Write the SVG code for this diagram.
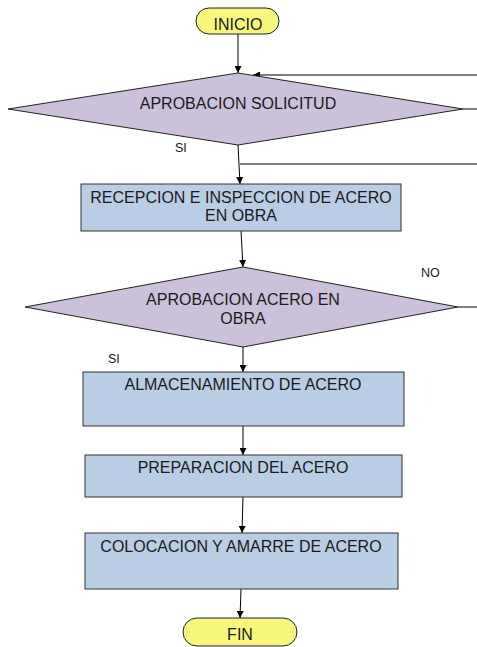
<svg xmlns="http://www.w3.org/2000/svg" width="477" height="647" viewBox="0 0 477 647">
<defs>
<marker id="ah" viewBox="0 0 10 10" refX="10" refY="5" markerWidth="7" markerHeight="7" markerUnits="userSpaceOnUse" orient="auto"><path d="M0,0 L10,5 L0,10 z" fill="#000"/></marker>
<style>
.t{font-family:"Liberation Sans",Arial,sans-serif;font-size:16px;fill:#1a1a1a;text-anchor:middle}
.l{font-family:"Liberation Sans",Arial,sans-serif;font-size:12.5px;fill:#1a1a1a}
.term{fill:#f7f77d;stroke:#222;stroke-width:1}
.dec{fill:#ccc1da;stroke:#222;stroke-width:1}
.proc{fill:#b9cde5;stroke:#333;stroke-width:1}
.c{stroke:#000;stroke-width:1;fill:none}
</style>
</defs>
<g id="connectors">
<line class="c" x1="238" y1="34" x2="238" y2="73" marker-end="url(#ah)"/>
<line class="c" x1="477" y1="75" x2="253" y2="75" marker-end="url(#ah)"/>
<line class="c" x1="463" y1="109" x2="477" y2="109"/>
<line class="c" x1="238" y1="145" x2="240" y2="184" marker-end="url(#ah)"/>
<line class="c" x1="240" y1="164" x2="477" y2="164"/>
<line class="c" x1="241" y1="231" x2="243" y2="267" marker-end="url(#ah)"/>
<line class="c" x1="458" y1="307" x2="477" y2="307"/>
<line class="c" x1="243" y1="347" x2="243" y2="372" marker-end="url(#ah)"/>
<line class="c" x1="243" y1="426" x2="243" y2="455" marker-end="url(#ah)"/>
<line class="c" x1="243" y1="497" x2="242" y2="533" marker-end="url(#ah)"/>
<line class="c" x1="241" y1="589" x2="240" y2="618" marker-end="url(#ah)"/>
</g>
<g id="inicio">
<rect class="term" x="196" y="8" width="83" height="26" rx="13"/>
<text class="t" x="238" y="30">INICIO</text>
</g>
<g id="aprobacion-solicitud">
<polygon class="dec" points="238,73 463,109 238,145 8,109"/>
<text class="t" x="238" y="109">APROBACION SOLICITUD</text>
</g>
<text class="l" x="175" y="152">SI</text>
<g id="recepcion">
<rect class="proc" x="81" y="184" width="320" height="47"/>
<text class="t" x="241" y="203">RECEPCION E INSPECCION DE ACERO</text>
<text class="t" x="241" y="221">EN OBRA</text>
</g>
<g id="aprobacion-acero">
<polygon class="dec" points="243,267 458,307 243,347 25,307"/>
<text class="t" x="243" y="305">APROBACION ACERO EN</text>
<text class="t" x="243" y="324">OBRA</text>
</g>
<text class="l" x="421" y="277">NO</text>
<text class="l" x="108" y="363">SI</text>
<g id="almacenamiento">
<rect class="proc" x="83" y="372" width="321" height="54"/>
<text class="t" x="243" y="390">ALMACENAMIENTO DE ACERO</text>
</g>
<g id="preparacion">
<rect class="proc" x="85" y="455" width="317" height="42"/>
<text class="t" x="243" y="473">PREPARACION DEL ACERO</text>
</g>
<g id="colocacion">
<rect class="proc" x="85" y="533" width="313" height="56"/>
<text class="t" x="241" y="552">COLOCACION Y AMARRE DE ACERO</text>
</g>
<g id="fin">
<rect class="term" x="183" y="618" width="114" height="28" rx="14"/>
<text class="t" x="240" y="640">FIN</text>
</g>
</svg>
